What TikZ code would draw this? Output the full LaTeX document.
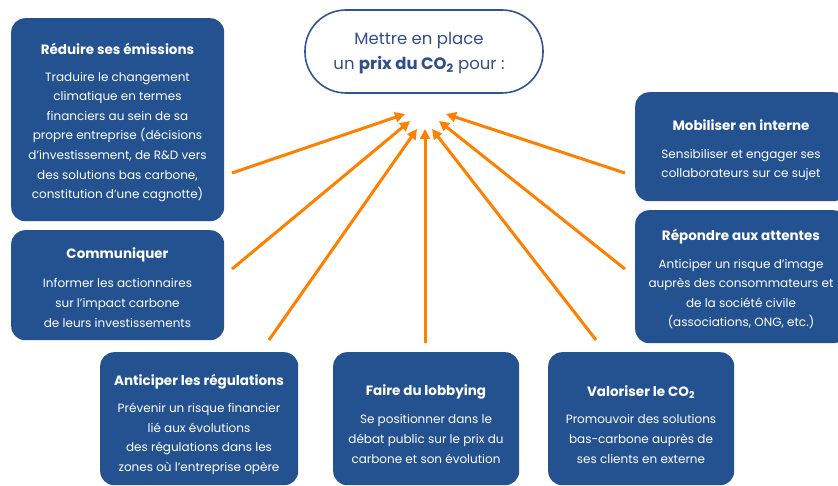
\documentclass[tikz,border=0pt]{standalone}
\usepackage{fontspec}
\setmainfont{Poppins}
\usetikzlibrary{arrows.meta}
\definecolor{boxblue}{RGB}{36,82,145}
\definecolor{arr}{RGB}{255,128,0}
\definecolor{txtblue}{RGB}{48,78,140}
\definecolor{bordblue}{RGB}{50,84,150}
\begin{document}
\begin{tikzpicture}[x=1pt,y=-1pt,
  box/.style={fill=boxblue, rounded corners=14pt, draw=none, inner sep=0pt, anchor=north west},
  ttl/.style={text=white, font=\bfseries\fontsize{13.5}{16}\selectfont, inner sep=0pt},
  body/.style={text=white, font=\fontsize{12}{19.6}\selectfont, align=center, inner sep=0pt},
  arrow/.style={draw=arr, line width=3pt, -{Triangle[length=10pt,width=10pt]}}]
\clip (0,0) rectangle (838,486);
\fill[white] (0,0) rectangle (838,486);

% central stadium
\node[draw=bordblue, line width=1.6pt, rounded corners=41pt, minimum width=238pt, minimum height=83pt, inner sep=0pt] (top) at (424,51.5) {};
\node[text=txtblue, font=\fontsize{16.5}{25}\selectfont, align=center, inner sep=0pt] (topT) at (419,53)
  {Mettre en place\\un \textbf{prix du CO\textsubscript{2}} pour :};

% boxes
\node[box, minimum width=213pt, minimum height=203pt] (reduire) at (11,18) {};
\node[ttl] (reduireT) at (117.5,49) {Réduire ses émissions};
\node[body] (reduireB) at (117.5,137) {Traduire le changement\\climatique en termes\\financiers au sein de sa\\propre entreprise (décisions\\d’investissement, de R\&D vers\\des solutions bas carbone,\\constitution d’une cagnotte)};

\node[box, minimum width=213pt, minimum height=110pt] (comm) at (11,230) {};
\node[ttl] (commT) at (117.5,255) {Communiquer};
\node[body] (commB) at (117.5,303) {Informer les actionnaires\\sur l’impact carbone\\de leurs investissements};

\node[box, minimum width=212pt, minimum height=109pt] (mob) at (635,92) {};
\node[ttl] (mobT) at (741,125) {Mobiliser en interne};
\node[body] (mobB) at (741,165) {Sensibiliser et engager ses\\collaborateurs sur ce sujet};

\node[box, minimum width=212pt, minimum height=133pt] (rep) at (635,210) {};
\node[ttl] (repT) at (741,237) {Répondre aux attentes};
\node[body] (repB) at (741,294) {Anticiper un risque d’image\\auprès des consommateurs et\\de la société civile\\(associations, ONG, etc.)};

\node[box, minimum width=198pt, minimum height=133pt] (antic) at (100,352) {};
\node[ttl] (anticT) at (199,382) {Anticiper les régulations};
\node[body] (anticB) at (199,439) {Prévenir un risque financier\\lié aux évolutions\\des régulations dans les\\zones où l’entreprise opère};

\node[box, minimum width=186pt, minimum height=133pt] (lobby) at (333,352) {};
\node[ttl] (lobbyT) at (426,392) {Faire du lobbying};
\node[body] (lobbyB) at (426,439) {Se positionner dans le\\débat public sur le prix du\\carbone et son évolution};

\node[box, minimum width=186pt, minimum height=133pt] (valo) at (548,352) {};
\node[ttl] (valoT) at (641,392) {Valoriser le CO\textsubscript{2}};
\node[body] (valoB) at (641,439) {Promouvoir des solutions\\bas-carbone auprès de\\ses clients en externe};

% arrow coordinates
\coordinate (s1) at (232,173); \coordinate (t1) at (405,114);
\coordinate (s2) at (232,269); \coordinate (t2) at (410,121);
\coordinate (s3) at (269,340); \coordinate (t3) at (417,129);
\coordinate (s4) at (425,343); \coordinate (t4) at (425,129);
\coordinate (s5) at (596,340); \coordinate (t5) at (432,129);
\coordinate (s6) at (625,269); \coordinate (t6) at (439,121);
\coordinate (s7) at (625,173); \coordinate (t7) at (446,114);
\foreach \i in {1,...,7} {\draw[arrow] (s\i) -- (t\i);}
\end{tikzpicture}
\end{document}
